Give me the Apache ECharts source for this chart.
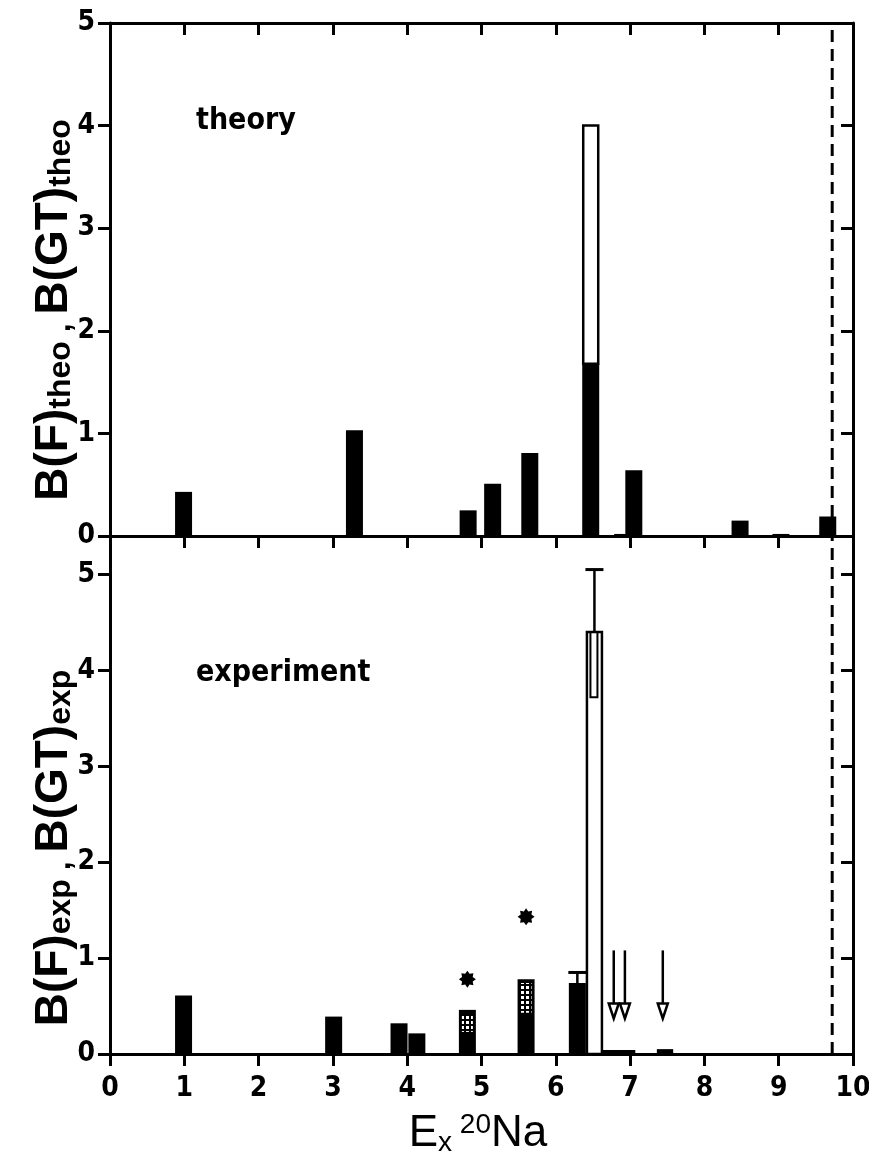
<!DOCTYPE html>
<html>
<head>
<meta charset="utf-8">
<script src="https://cdn.jsdelivr.net/npm/echarts@6/dist/echarts.min.js"></script>
<style>
  html, body { margin: 0; padding: 0; background: #fff; }
  #chart { width: 869px; height: 1160px; }
</style>
</head>
<body>
<div id="chart"></div>
<script>
// excitation energies in 20Na (MeV); black = B(GT), white stacked on top = B(F)
const theoEx = [0.99, 3.29, 4.82, 5.15, 5.65, 6.47, 6.90, 7.05, 8.48, 9.03, 9.66]
const theoGT = [0.43, 1.03, 0.25, 0.51, 0.81, 1.68, 0.02, 0.64, 0.15, 0.02, 0.19]
const theoF = [0, 0, 0, 0, 0, 2.32, 0, 0, 0, 0, 0]

const expEx = [0.99, 3.01, 3.89, 4.13, 4.81, 5.60, 6.29, 6.52]
const expGT = [0.61, 0.39, 0.32, 0.215, 0.46, 0.78, 0.74, 0]
const expF = [0, 0, 0, 0, 0, 0, 0, 4.40]

// hatched (uncertain) part of two levels
const hatchEx = [4.81, 5.60]
const hatchLo = [0.23, 0.43]
const hatchHi = [0.40, 0.74]

// error bars
const errEx = [6.29, 6.52]
const errLo = [0.74, 3.72]
const errMid = [0.74, 4.40]
const errHi = [0.85, 5.05]

// asterisks
const starEx = [4.81, 5.60]
const starB = [0.78, 1.43]

// upper-limit arrows
const limitEx = [6.78, 6.93, 7.44]
const limitTop = [1.08, 1.08, 1.08]
const limitTip = [0.37, 0.37, 0.37]

// weak strength smeared over an energy range
const weakFrom = [6.62, 7.36]
const weakTo = [7.07, 7.58]
const weakB = [0.02, 0.03]

const thresholdEx = 9.72
const topMax = 5
const bottomMax = 5.4

const NARROW = '"Liberation Sans Narrow", "DejaVu Sans Condensed", "Liberation Sans", sans-serif'
const SANS = '"Liberation Sans", Arial, sans-serif'
const BAR_W = 17

const hatchImg = document.createElement('canvas')
hatchImg.width = 5
hatchImg.height = 5
const hctx = hatchImg.getContext('2d')
hctx.fillStyle = '#000'
hctx.fillRect(0, 0, 5, 5)
hctx.fillStyle = '#fff'
hctx.fillRect(1, 1, 3, 3)

function starPath() {
  const pts = []
  for (let i = 0; i < 16; i++) {
    const r = i % 2 ? 0.68 : 1
    const a = (Math.PI * i) / 8
    pts.push((r * Math.sin(a)).toFixed(3) + ' ' + (-r * Math.cos(a)).toFixed(3))
  }
  return 'path://M' + pts.join(' L') + ' Z'
}

function barShape(api, x, y0, y1, w) {
  const a = api.coord([x, y0])
  const b = api.coord([x, y1])
  return { x: a[0] - w / 2, y: b[1], width: w, height: a[1] - b[1] }
}

function renderStack(params, api) {
  const x = api.value(0)
  const gt = api.value(1)
  const f = api.value(2)
  const children = []
  if (gt > 0) {
    children.push({ type: 'rect', shape: barShape(api, x, 0, gt, BAR_W), style: { fill: '#000' } })
  }
  if (f > 0) {
    children.push({
      type: 'rect',
      shape: barShape(api, x, gt, gt + f, BAR_W - 2),
      style: { fill: '#fff', stroke: '#000', lineWidth: 2.5 },
    })
  }
  return { type: 'group', children }
}

const axisLine = { show: true, onZero: false, lineStyle: { color: '#000', width: 3 } }
const tickOut = { show: true, length: 12, lineStyle: { color: '#000', width: 3 } }
const tickIn = { show: true, inside: true, length: 12, lineStyle: { color: '#000', width: 3 } }
const noLabel = { show: false }
const noSplit = { show: false }
const tickFont = { color: '#000', fontSize: 28, fontWeight: 'bold', fontFamily: NARROW }

function xAx(gridIndex, position, tick, label) {
  return {
    type: 'value', gridIndex, position, min: 0, max: 10, interval: 1,
    axisLine, axisTick: tick, axisLabel: label, splitLine: noSplit,
  }
}
function yAx(gridIndex, position, max, tick, label) {
  return {
    type: 'value', gridIndex, position, min: 0, max, interval: 1,
    axisLine, axisTick: tick, axisLabel: label, splitLine: noSplit,
  }
}

const nameRich = {
  b: { fontSize: 46, fontWeight: 'bold', fontFamily: SANS, lineHeight: 46, verticalAlign: 'middle', fill: '#000' },
  s: { fontSize: 32, fontWeight: 'bold', fontFamily: SANS, lineHeight: 18, verticalAlign: 'bottom', fill: '#000' },
}

const option = {
  animation: false,
  backgroundColor: '#fff',
  grid: [
    { left: 110, right: 16, top: 23, height: 513, outerBoundsMode: 'none' },
    { left: 110, right: 16, top: 536, height: 518, outerBoundsMode: 'none' },
  ],
  xAxis: [
    xAx(0, 'bottom', tickOut, noLabel),
    xAx(0, 'top', tickIn, noLabel),
    xAx(1, 'bottom', tickOut, { ...tickFont, margin: 21 }),
  ],
  yAxis: [
    yAx(0, 'left', topMax, tickOut, { ...tickFont, margin: 15 }),
    yAx(0, 'right', topMax, tickIn, noLabel),
    yAx(1, 'left', bottomMax, tickOut, { ...tickFont, margin: 15, showMaxLabel: false }),
    yAx(1, 'right', bottomMax, tickIn, noLabel),
  ],
  series: [
    {
      type: 'line', xAxisIndex: 0, yAxisIndex: 0, symbol: 'none', z: 1,
      data: [[thresholdEx, 0], [thresholdEx, topMax]],
      lineStyle: { color: '#000', width: 3, type: [12, 7] },
    },
    {
      type: 'line', xAxisIndex: 2, yAxisIndex: 2, symbol: 'none', z: 1,
      data: [[thresholdEx, 0], [thresholdEx, bottomMax]],
      lineStyle: { color: '#000', width: 3, type: [12, 7] },
    },
    {
      type: 'custom', xAxisIndex: 0, yAxisIndex: 0, z: 3,
      data: theoEx.map((x, i) => [x, theoGT[i], theoF[i]]),
      renderItem: renderStack,
    },
    {
      type: 'custom', xAxisIndex: 2, yAxisIndex: 2, z: 3,
      data: expEx.map((x, i) => [x, expGT[i], expF[i]]),
      renderItem: renderStack,
    },
    {
      type: 'custom', xAxisIndex: 2, yAxisIndex: 2, z: 4,
      data: hatchEx.map((x, i) => [x, hatchLo[i], hatchHi[i]]),
      renderItem(params, api) {
        return {
          type: 'rect',
          shape: barShape(api, api.value(0), api.value(1), api.value(2), BAR_W - 6),
          style: { fill: { image: hatchImg, repeat: 'repeat' } },
        }
      },
    },
    {
      type: 'custom', xAxisIndex: 2, yAxisIndex: 2, z: 5,
      data: weakFrom.map((x, i) => [x, weakTo[i], weakB[i]]),
      renderItem(params, api) {
        const a = api.coord([api.value(0), 0])
        const b = api.coord([api.value(1), api.value(2)])
        return { type: 'rect', shape: { x: a[0], y: b[1] - 2, width: b[0] - a[0], height: a[1] - b[1] + 2 }, style: { fill: '#000' } }
      },
    },
    {
      type: 'custom', xAxisIndex: 2, yAxisIndex: 2, z: 6,
      data: errEx.map((x, i) => [x, errLo[i], errMid[i], errHi[i]]),
      renderItem(params, api) {
        const x = api.value(0)
        const lo = api.coord([x, api.value(1)])
        const mid = api.coord([x, api.value(2)])
        const hi = api.coord([x, api.value(3)])
        const children = [
          { type: 'line', shape: { x1: hi[0], y1: hi[1], x2: hi[0], y2: mid[1] }, style: { stroke: '#000', lineWidth: 2.5 } },
          { type: 'line', shape: { x1: hi[0] - 9, y1: hi[1], x2: hi[0] + 9, y2: hi[1] }, style: { stroke: '#000', lineWidth: 3 } },
        ]
        if (lo[1] - mid[1] > 1) {
          children.push({
            type: 'rect',
            shape: { x: lo[0] - 4, y: mid[1], width: 7, height: lo[1] - mid[1] },
            style: { fill: 'none', stroke: '#000', lineWidth: 2 },
          })
        }
        return { type: 'group', children }
      },
    },
    {
      type: 'custom', xAxisIndex: 2, yAxisIndex: 2, z: 6,
      data: limitEx.map((x, i) => [x, limitTop[i], limitTip[i]]),
      renderItem(params, api) {
        const x = api.value(0)
        const top = api.coord([x, api.value(1)])
        const tip = api.coord([x, api.value(2)])
        return {
          type: 'group',
          children: [
            { type: 'line', shape: { x1: top[0], y1: top[1], x2: tip[0], y2: tip[1] - 14 }, style: { stroke: '#000', lineWidth: 2.5 } },
            {
              type: 'polygon',
              shape: { points: [[tip[0], tip[1]], [tip[0] - 5, tip[1] - 15], [tip[0] + 5, tip[1] - 15]] },
              style: { fill: '#fff', stroke: '#000', lineWidth: 2.5 },
            },
          ],
        }
      },
    },
    {
      type: 'scatter', xAxisIndex: 2, yAxisIndex: 2, z: 6,
      data: starEx.map((x, i) => [x, starB[i]]),
      symbol: starPath(),
      symbolSize: 17,
      itemStyle: { color: '#000', opacity: 1 },
      emphasis: { disabled: true },
    },
  ],
  graphic: [
    {
      type: 'text', left: 196, top: 106,
      style: { text: 'theory', fontSize: 30, fontWeight: 'bold', fontFamily: NARROW, fill: '#000' },
    },
    {
      type: 'text', left: 196, top: 658,
      style: { text: 'experiment', fontSize: 30, fontWeight: 'bold', fontFamily: NARROW, fill: '#000' },
    },
    {
      type: 'text', x: 54, y: 310, rotation: Math.PI / 2,
      style: {
        text: '{b|B(F)}{s|theo , }{b|B(GT)}{s|theo}',
        rich: nameRich, align: 'center', verticalAlign: 'middle',
      },
    },
    {
      type: 'text', x: 54, y: 848, rotation: Math.PI / 2,
      style: {
        text: '{b|B(F)}{s|exp , }{b|B(GT)}{s|exp}',
        rich: nameRich, align: 'center', verticalAlign: 'middle',
      },
    },
    {
      type: 'text', x: 478, y: 1134,
      style: {
        text: '{e|E}{sub|x}{sp| }{sup|20}{e|Na}',
        align: 'center', verticalAlign: 'middle',
        rich: {
          e: { fontSize: 44, fontFamily: SANS, lineHeight: 46, verticalAlign: 'middle', fill: '#000' },
          sub: { fontSize: 28, fontFamily: SANS, lineHeight: 20, verticalAlign: 'bottom', fill: '#000' },
          sp: { fontSize: 28, fontFamily: SANS, lineHeight: 20, fill: '#000' },
          sup: { fontSize: 28, fontFamily: SANS, lineHeight: 20, verticalAlign: 'top', fill: '#000' },
        },
      },
    },
  ],
}

const chart = echarts.init(document.getElementById('chart'), null, { renderer: 'canvas' })
chart.setOption(option)
</script>
</body>
</html>
